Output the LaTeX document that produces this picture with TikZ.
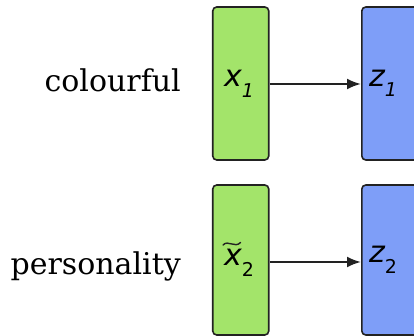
\documentclass[tikz,border=0pt]{standalone}
\usepackage{fontspec}
\setmainfont{DejaVu Serif}
\newfontfamily\dvs{DejaVu Sans}
\usetikzlibrary{arrows.meta}
\definecolor{boxgreen}{HTML}{A3E46A}
\definecolor{boxblue}{HTML}{7E9EF8}
\definecolor{edge}{HTML}{222222}
\tikzset{
  vecbox/.style={draw=edge, line width=1.6pt, rounded corners=4pt, minimum width=56pt, inner sep=0pt},
  inbox/.style={vecbox, fill=boxgreen},
  outbox/.style={vecbox, fill=boxblue},
  lbl/.style={font=\fontsize{30}{34}\selectfont, anchor=east, inner sep=0pt},
  sym/.style={font=\dvs\fontsize{30}{34}\selectfont, inner sep=0pt},
  tildemark/.style={line width=1.4pt, edge, line cap=round},
  conn/.style={-{Latex[length=14pt,width=11pt]}, line width=2.2pt, edge}
}
\newcommand{\subsz}{\fontsize{19}{21}\selectfont}
\begin{document}
\begin{tikzpicture}[x=1pt,y=1pt]
\useasboundingbox (0,0) rectangle (414,336);
\clip (0,0) rectangle (414,336);
\node[inbox, minimum height=153pt] (g1) at (240.75,252.5) {};
\node[inbox, minimum height=150pt] (g2) at (240.75,76) {};
\node[outbox, minimum height=153pt, anchor=west] (b1) at (361,252.5) {};
\node[outbox, minimum height=150pt, anchor=west] (b2) at (361,76) {};
\node[sym] (x1) at (239,252) {\itshape x\raisebox{-0.35em}{\subsz 1}};
\node[sym] (x2) at (239,73) {\itshape x\raisebox{-0.35em}{\upshape\subsz 2}};
\draw[tildemark] (223,91) .. controls (228,96.5) and (235,87.5) .. (240.5,93.5);
\node[sym, anchor=west] (z1) at ([xshift=8pt]b1.west) {\itshape z\raisebox{-0.35em}{\subsz 1}};
\node[sym, anchor=west] (z2) at ([xshift=8pt]b2.west) {\itshape z\raisebox{-0.35em}{\upshape\subsz 2}};
\node[lbl] (l1) at (181,256) {colourful};
\node[lbl] (l2) at (181,70) {personality};
\draw[conn] (g1.east |- 0,252) -- (b1.west |- 0,252);
\draw[conn] (g2.east |- 0,74) -- (b2.west |- 0,74);
\end{tikzpicture}
\end{document}
